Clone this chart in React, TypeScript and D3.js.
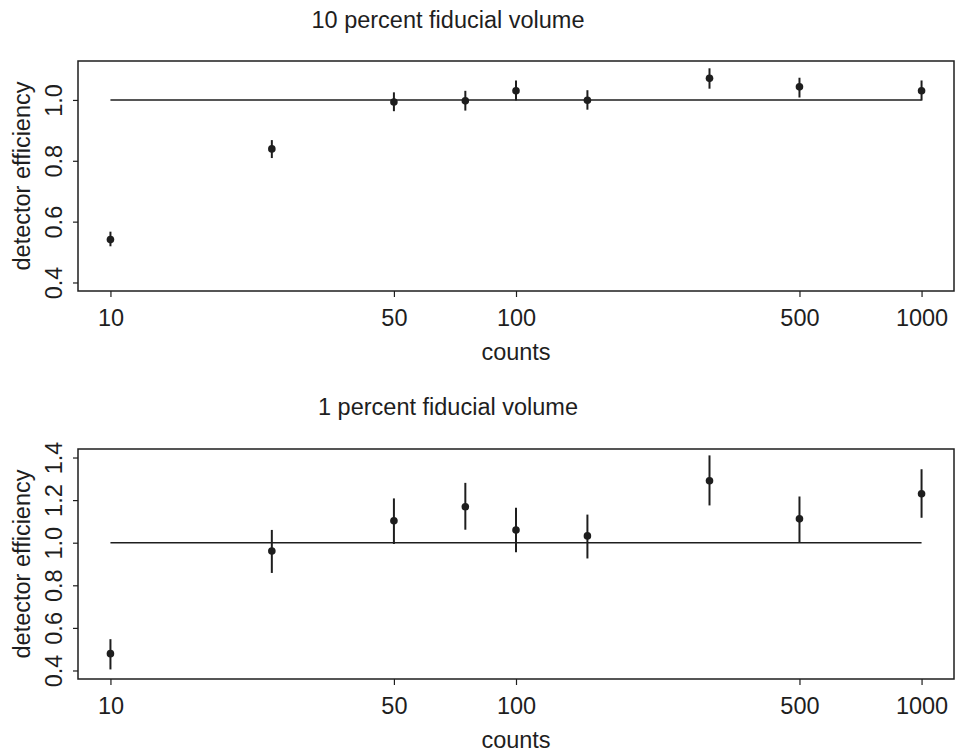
import { useEffect, useRef } from "react"
import * as d3 from "d3"

// counts on the log x axis
const counts = [10, 25, 50, 75, 100, 150, 300, 500, 1000]

// 10 percent fiducial volume
const eff10 = [0.541, 0.839, 0.993, 0.997, 1.03, 0.999, 1.071, 1.043, 1.03]
const low10 = [0.519, 0.809, 0.963, 0.965, 0.998, 0.968, 1.037, 1.008, 0.998]
const high10 = [0.567, 0.868, 1.025, 1.03, 1.064, 1.032, 1.104, 1.073, 1.064]

// 1 percent fiducial volume
const eff1 = [0.479, 0.961, 1.103, 1.169, 1.06, 1.032, 1.291, 1.112, 1.23]
const low1 = [0.405, 0.858, 0.994, 1.061, 0.955, 0.926, 1.175, 1.0, 1.117]
const high1 = [0.547, 1.06, 1.208, 1.281, 1.164, 1.132, 1.41, 1.217, 1.345]

const xTicks = [10, 50, 100, 500, 1000]
const yTicks10 = [0.4, 0.6, 0.8, 1.0]
const yTicks1 = [0.4, 0.6, 0.8, 1.0, 1.2, 1.4]

const FONT = "'Liberation Sans', Arial, Helvetica, sans-serif"
const INK = "#1e1e1e"

type Panel = {
  title: string
  eff: number[]
  low: number[]
  high: number[]
  yLim: [number, number]
  yTicks: number[]
  top: number
  bottom: number
  titleY: number
}

const panels: Panel[] = [
  {
    title: "10 percent fiducial volume",
    eff: eff10,
    low: low10,
    high: high10,
    yLim: [0.4, 1.1],
    yTicks: yTicks10,
    top: 61,
    bottom: 291,
    titleY: 28,
  },
  {
    title: "1 percent fiducial volume",
    eff: eff1,
    low: low1,
    high: high1,
    yLim: [0.4, 1.4],
    yTicks: yTicks1,
    top: 449,
    bottom: 679,
    titleY: 415,
  },
]

const App = () => {
  const svgRef = useRef<SVGSVGElement>(null)

  useEffect(() => {
    if (!svgRef.current) return
    const svg = d3.select(svgRef.current)
    svg.selectAll("*").remove()

    const left = 78
    const right = 954
    const fontSize = 23.5

    // R style: extend log range 4% on each side
    const lx = [Math.log10(10), Math.log10(1000)]
    const padX = (lx[1] - lx[0]) * 0.04
    const x = d3
      .scaleLog()
      .domain([10 ** (lx[0] - padX), 10 ** (lx[1] + padX)])
      .range([left, right])

    panels.forEach((p) => {
      const padY = (p.yLim[1] - p.yLim[0]) * 0.04
      const y = d3
        .scaleLinear()
        .domain([p.yLim[0] - padY, p.yLim[1] + padY])
        .range([p.bottom, p.top])

      const g = svg.append("g")

      // title
      g.append("text")
        .attr("x", 448)
        .attr("y", p.titleY)
        .attr("text-anchor", "middle")
        .attr("font-family", FONT)
        .attr("font-size", fontSize)
        .attr("fill", INK)
        .text(p.title)

      // x axis
      const xAxis = g
        .append("g")
        .attr("transform", `translate(0,${p.bottom})`)
        .call(
          d3
            .axisBottom(x)
            .tickValues(xTicks)
            .tickFormat((d) => String(d))
            .tickSize(6)
            .tickSizeOuter(0)
        )
      xAxis.select(".domain").remove()
      xAxis.selectAll("line").attr("stroke", INK).attr("stroke-width", 1.2)
      xAxis
        .selectAll("text")
        .attr("y", 35)
        .attr("dy", 0)
        .attr("font-family", FONT)
        .attr("font-size", fontSize)
        .attr("fill", INK)

      // y axis
      const yAxis = g
        .append("g")
        .attr("transform", `translate(${left},0)`)
        .call(
          d3
            .axisLeft(y)
            .tickValues(p.yTicks)
            .tickFormat(d3.format(".1f"))
            .tickSize(5)
            .tickSizeOuter(0)
        )
      yAxis.select(".domain").remove()
      yAxis.selectAll("line").attr("stroke", INK).attr("stroke-width", 1.2)
      yAxis
        .selectAll("text")
        .attr("x", 0)
        .attr("dy", 0)
        .attr("text-anchor", "middle")
        .attr("transform", "translate(-16,0) rotate(-90)")
        .attr("font-family", FONT)
        .attr("font-size", fontSize)
        .attr("fill", INK)

      // axis labels
      g.append("text")
        .attr("transform", `translate(30,${(p.top + p.bottom) / 2}) rotate(-90)`)
        .attr("text-anchor", "middle")
        .attr("font-family", FONT)
        .attr("font-size", fontSize)
        .attr("fill", INK)
        .text("detector efficiency")

      g.append("text")
        .attr("x", (left + right) / 2)
        .attr("y", p.bottom + 69)
        .attr("text-anchor", "middle")
        .attr("font-family", FONT)
        .attr("font-size", fontSize)
        .attr("fill", INK)
        .text("counts")

      // reference line at efficiency 1
      g.append("line")
        .attr("x1", x(counts[0]))
        .attr("x2", x(counts[counts.length - 1]))
        .attr("y1", y(1))
        .attr("y2", y(1))
        .attr("stroke", INK)
        .attr("stroke-width", 1.5)

      // error bars
      g.selectAll(".err")
        .data(counts)
        .enter()
        .append("line")
        .attr("class", "err")
        .attr("x1", (d) => x(d))
        .attr("x2", (d) => x(d))
        .attr("y1", (_, i) => y(p.low[i]))
        .attr("y2", (_, i) => y(p.high[i]))
        .attr("stroke", INK)
        .attr("stroke-width", 2)

      // points
      g.selectAll(".pt")
        .data(counts)
        .enter()
        .append("circle")
        .attr("class", "pt")
        .attr("cx", (d) => x(d))
        .attr("cy", (_, i) => y(p.eff[i]))
        .attr("r", 3.8)
        .attr("fill", INK)

      // box
      g.append("rect")
        .attr("x", left)
        .attr("y", p.top)
        .attr("width", right - left)
        .attr("height", p.bottom - p.top)
        .attr("fill", "none")
        .attr("stroke", INK)
        .attr("stroke-width", 1.5)
    })
  }, [])

  return (
    <div style={{ position: "absolute", left: 0, top: 0, background: "white" }}>
      <svg ref={svgRef} width={955} height={753} style={{ display: "block" }}></svg>
    </div>
  )
}

export default App
